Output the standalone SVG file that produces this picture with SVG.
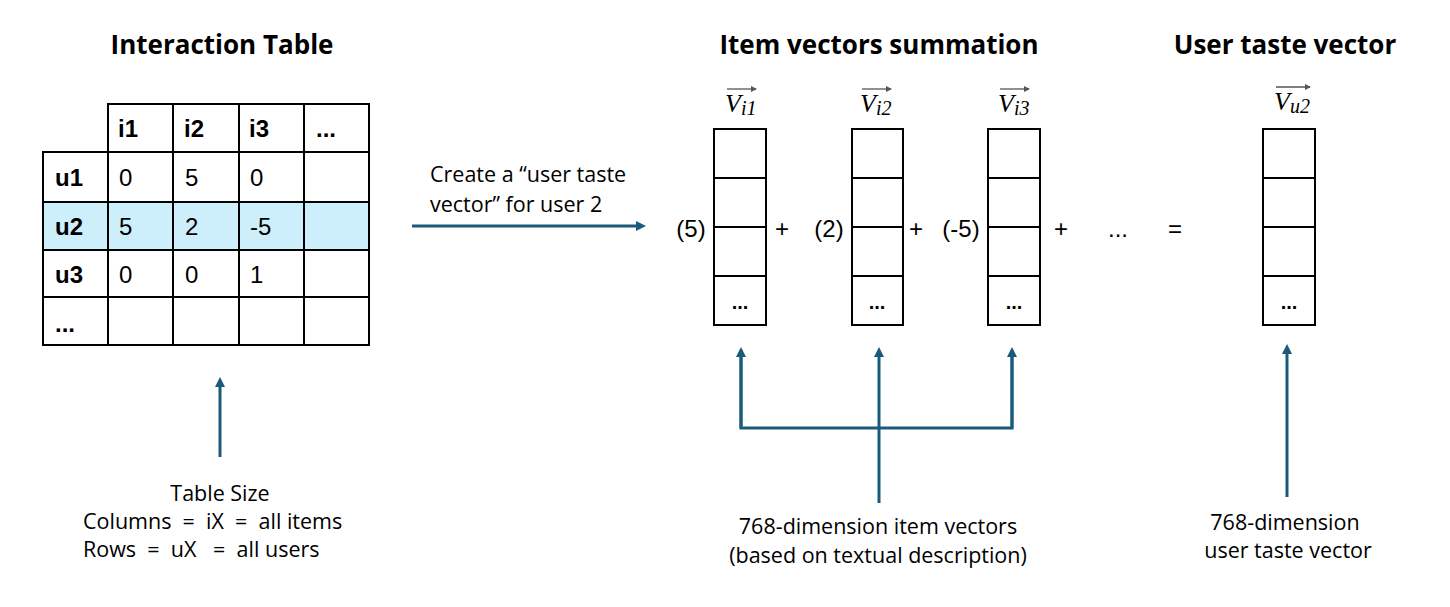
<svg xmlns="http://www.w3.org/2000/svg" width="1450" height="607" viewBox="0 0 1450 607">
<defs>
<marker id="ah" markerWidth="10" markerHeight="10" refX="5" refY="5" orient="auto" markerUnits="userSpaceOnUse" viewBox="0 0 10 10">
<path d="M0,0 L10,5 L0,10 z" fill="#1a5a7a"/>
</marker>
<marker id="ov" markerWidth="6" markerHeight="6" refX="5" refY="3" orient="auto" markerUnits="userSpaceOnUse" viewBox="0 0 6 6">
<path d="M0,0 L6,3 L0,6 z" fill="#555"/>
</marker>
</defs>
<style>
.title{font-family:"Open Sans","Liberation Sans",sans-serif;font-weight:bold;font-size:26px;fill:#000;text-anchor:middle}
.cell{fill:#fff;stroke:#000;stroke-width:2}
.hl{fill:#cdeefb;stroke:#000;stroke-width:2}
.th{font-family:"Liberation Sans",Arial,sans-serif;font-weight:bold;font-size:24px;fill:#000}
.td{font-family:"Liberation Sans",Arial,sans-serif;font-size:24px;fill:#000}
.lab{font-family:"Open Sans","Liberation Sans",sans-serif;font-size:21.5px;fill:#000;white-space:pre}
.labc{font-family:"Open Sans","Liberation Sans",sans-serif;font-size:21.5px;fill:#000;text-anchor:middle}
.op{font-family:"Liberation Sans",Arial,sans-serif;font-size:24px;fill:#000;text-anchor:middle}
.dots{font-family:"Liberation Sans",Arial,sans-serif;font-size:20px;font-weight:bold;fill:#000;text-anchor:middle}
.vec{fill:#fff;stroke:#000;stroke-width:2}
.math{font-family:"Liberation Serif","Times New Roman",serif;font-style:italic;fill:#000;font-size:26px}
.sub{font-size:20px}
.conn{stroke:#1a5a7a;stroke-width:3;fill:none}
.arr{stroke:#1a5a7a;stroke-width:3;fill:none;marker-end:url(#ah)}
.ov{stroke:#555;stroke-width:1.3;marker-end:url(#ov)}
</style>

<g id="titles">
<text class="title" x="222" y="54">Interaction Table</text>
<text class="title" x="879" y="54">Item vectors summation</text>
<text class="title" x="1285" y="54">User taste vector</text>
</g>

<g id="interaction-table">
<rect class="cell" x="108" y="104" width="65" height="48"/>
<rect class="cell" x="173" y="104" width="66" height="48"/>
<rect class="cell" x="239" y="104" width="65" height="48"/>
<rect class="cell" x="304" y="104" width="65" height="48"/>
<rect class="cell" x="43" y="152" width="65" height="50"/>
<rect class="cell" x="108" y="152" width="65" height="50"/>
<rect class="cell" x="173" y="152" width="66" height="50"/>
<rect class="cell" x="239" y="152" width="65" height="50"/>
<rect class="cell" x="304" y="152" width="65" height="50"/>
<rect class="hl" x="43" y="202" width="65" height="48"/>
<rect class="hl" x="108" y="202" width="65" height="48"/>
<rect class="hl" x="173" y="202" width="66" height="48"/>
<rect class="hl" x="239" y="202" width="65" height="48"/>
<rect class="hl" x="304" y="202" width="65" height="48"/>
<rect class="cell" x="43" y="250" width="65" height="47"/>
<rect class="cell" x="108" y="250" width="65" height="47"/>
<rect class="cell" x="173" y="250" width="66" height="47"/>
<rect class="cell" x="239" y="250" width="65" height="47"/>
<rect class="cell" x="304" y="250" width="65" height="47"/>
<rect class="cell" x="43" y="297" width="65" height="48"/>
<rect class="cell" x="108" y="297" width="65" height="48"/>
<rect class="cell" x="173" y="297" width="66" height="48"/>
<rect class="cell" x="239" y="297" width="65" height="48"/>
<rect class="cell" x="304" y="297" width="65" height="48"/>
<text class="th" x="118" y="137">i1</text>
<text class="th" x="184" y="137">i2</text>
<text class="th" x="249" y="137">i3</text>
<text class="th" x="316" y="137">...</text>
<text class="th" x="55" y="186">u1</text>
<text class="th" x="55" y="235">u2</text>
<text class="th" x="55" y="283">u3</text>
<text class="th" x="55" y="332">...</text>
<text class="td" x="119" y="186">0</text>
<text class="td" x="185" y="186">5</text>
<text class="td" x="250" y="186">0</text>
<text class="td" x="119" y="235">5</text>
<text class="td" x="185" y="235">2</text>
<text class="td" x="250" y="235">-5</text>
<text class="td" x="119" y="283">0</text>
<text class="td" x="185" y="283">0</text>
<text class="td" x="250" y="283">1</text>
</g>

<g id="vector-i1">
<rect class="vec" x="714" y="129" width="52" height="49"/>
<rect class="vec" x="714" y="178" width="52" height="49"/>
<rect class="vec" x="714" y="227" width="52" height="49"/>
<rect class="vec" x="714" y="276" width="52" height="49"/>
<text class="dots" x="740" y="309">...</text>
<line class="ov" x1="727" y1="89" x2="756" y2="89"/>
<text class="math" x="725" y="112">V<tspan class="sub" dy="3">i1</tspan></text>
</g>

<g id="vector-i2">
<rect class="vec" x="852" y="129" width="51" height="49"/>
<rect class="vec" x="852" y="178" width="51" height="49"/>
<rect class="vec" x="852" y="227" width="51" height="49"/>
<rect class="vec" x="852" y="276" width="51" height="49"/>
<text class="dots" x="877" y="309">...</text>
<line class="ov" x1="862" y1="89" x2="891" y2="89"/>
<text class="math" x="860" y="112">V<tspan class="sub" dy="3">i2</tspan></text>
</g>

<g id="vector-i3">
<rect class="vec" x="988" y="129" width="52" height="49"/>
<rect class="vec" x="988" y="178" width="52" height="49"/>
<rect class="vec" x="988" y="227" width="52" height="49"/>
<rect class="vec" x="988" y="276" width="52" height="49"/>
<text class="dots" x="1014" y="309">...</text>
<line class="ov" x1="1000" y1="89" x2="1029" y2="89"/>
<text class="math" x="998" y="112">V<tspan class="sub" dy="3">i3</tspan></text>
</g>

<g id="vector-u2">
<rect class="vec" x="1263" y="129" width="52" height="49"/>
<rect class="vec" x="1263" y="178" width="52" height="49"/>
<rect class="vec" x="1263" y="227" width="52" height="49"/>
<rect class="vec" x="1263" y="276" width="52" height="49"/>
<text class="dots" x="1289" y="309">...</text>
<line class="ov" x1="1276" y1="87" x2="1310" y2="87"/>
<text class="math" x="1274" y="110">V<tspan class="sub" dy="3">u2</tspan></text>
</g>

<g id="operators">
<text class="op" x="691" y="237">(5)</text>
<text class="op" x="782" y="237">+</text>
<text class="op" x="829" y="237">(2)</text>
<text class="op" x="916" y="237">+</text>
<text class="op" x="961" y="237">(-5)</text>
<text class="op" x="1061" y="237">+</text>
<text class="op" x="1118" y="237">...</text>
<text class="op" x="1175" y="237">=</text>
</g>

<g id="labels">
<text class="lab" x="430" y="182">Create a “user taste</text>
<text class="lab" x="430" y="212">vector” for user 2</text>
<text class="labc" x="220" y="501">Table Size</text>
<text class="lab" x="83" y="529" xml:space="preserve">Columns  =  iX  =  all items</text>
<text class="lab" x="83" y="557" xml:space="preserve">Rows  =  uX   =  all users</text>
<text class="labc" x="878" y="534">768-dimension item vectors</text>
<text class="labc" x="878" y="563">(based on textual description)</text>
<text class="labc" x="1285" y="530">768-dimension</text>
<text class="labc" x="1288" y="558">user taste vector</text>
</g>

<g id="connectors">
<line class="arr" x1="412" y1="226" x2="641" y2="226"/>
<line class="arr" x1="220" y1="457" x2="220" y2="382"/>
<polyline class="conn" points="741,350 741,428 1012,428 1012,350"/>
<line class="arr" x1="741" y1="428" x2="741" y2="352"/>
<line class="arr" x1="1012" y1="428" x2="1012" y2="352"/>
<line class="arr" x1="879" y1="503" x2="879" y2="352"/>
<line class="arr" x1="1287" y1="497" x2="1287" y2="349"/>
</g>
</svg>
